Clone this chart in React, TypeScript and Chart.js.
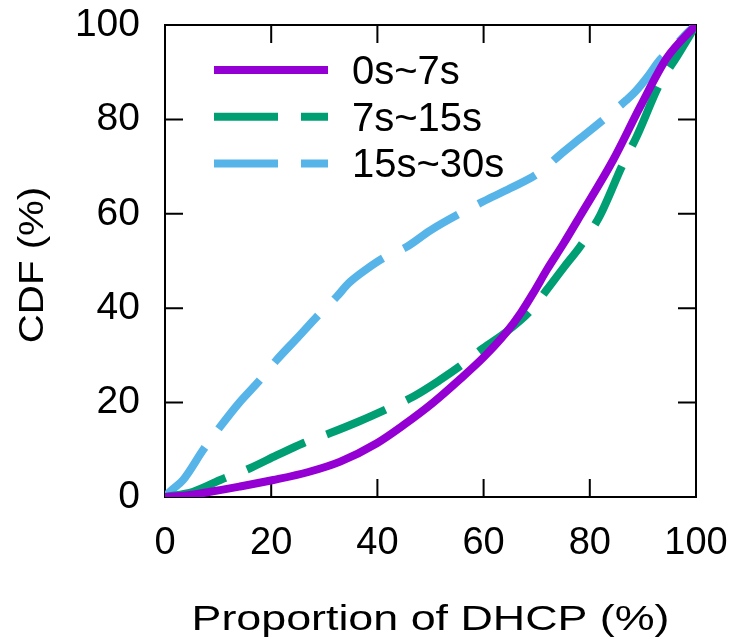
import React, { useEffect, useRef } from "react";
import { Chart, registerables } from "chart.js";

Chart.register(...registerables);

// ---- data ----
const SERIES_LABELS = ["0s~7s", "7s~15s", "15s~30s"];
const SERIES_COLORS = ["#9400D3", "#009E73", "#56B4E9"];
const X_TITLE = "Proportion of DHCP (%)";
const Y_TITLE = "CDF (%)";
const X_TICKS = [0, 20, 40, 60, 80, 100];
const Y_TICKS = [0, 20, 40, 60, 80, 100];

const shortX = [0, 4, 8.5, 14, 20.4, 27, 33, 39.9, 45, 50.5, 55.6, 60, 64.3, 67, 69.4, 72, 75, 78.2, 84.4, 89.5, 94.5, 100];
const shortY = [0, 0.3, 1.1, 2.2, 3.6, 5.3, 7.5, 11.4, 15.3, 20, 25, 29.6, 34.9, 39, 43.3, 48.3, 53.6, 59.6, 71.4, 82.7, 93, 100];

const midX = [0, 5.3, 10.4, 16, 21, 26, 31, 36.5, 41.7, 46.8, 51.8, 55.9, 59.9, 64.3, 68.7, 71.9, 75, 78, 80, 82, 86.3, 88.8, 93.2, 96.4, 100];
const midY = [0, 1.1, 3.6, 6.1, 8.8, 11.4, 13.5, 16, 18.6, 21.3, 24.8, 28, 31.5, 35, 39.3, 43.9, 48.5, 52.8, 56, 59.8, 70.7, 76.3, 87.6, 93.3, 100];

const longX = [0, 1, 3.4, 7.2, 10.4, 14, 17.9, 21, 25, 28.6, 32.3, 34.6, 38, 41.1, 45.5, 50, 55.6, 59.9, 65, 70.3, 74.4, 78, 82.5, 86.9, 88.5, 91, 93.2, 96, 98.2, 100];
const longY = [0, 1.2, 3.6, 10, 14.9, 20, 24.8, 29, 33.8, 38.2, 42.4, 45.3, 48.3, 50.6, 53, 56.5, 60.1, 62.6, 65.4, 68.6, 72.5, 75.8, 79.9, 84.1, 85.8, 89.2, 92.6, 95.5, 98.2, 100];

const FONT = '"Liberation Sans", Arial, Helvetica, sans-serif';
const DASHES: number[][] = [[], [64, 23], [64, 23]];

function toPoints(xs: number[], ys: number[]) {
  return xs.map((x, i) => ({ x, y: ys[i] }));
}

function zeroPad(s: any) {
  s.paddingTop = 0;
  s.paddingBottom = 0;
  s.paddingLeft = 0;
  s.paddingRight = 0;
}

const decorPlugin = {
  id: "decor",
  beforeDatasetsDraw(chart: any) {
    const { ctx, chartArea: a, scales } = chart;
    ctx.save();
    ctx.strokeStyle = "#000";
    ctx.lineWidth = 2;
    ctx.strokeRect(a.left, a.top, a.right - a.left, a.bottom - a.top);
    const tl = 18;
    ctx.beginPath();
    for (const v of X_TICKS) {
      const px = scales.x.getPixelForValue(v);
      ctx.moveTo(px, a.bottom);
      ctx.lineTo(px, a.bottom - tl);
      ctx.moveTo(px, a.top);
      ctx.lineTo(px, a.top + tl);
    }
    for (const v of Y_TICKS) {
      const py = scales.y.getPixelForValue(v);
      ctx.moveTo(a.left, py);
      ctx.lineTo(a.left + tl, py);
      ctx.moveTo(a.right, py);
      ctx.lineTo(a.right - tl, py);
    }
    ctx.stroke();
    ctx.restore();
  },
  afterDraw(chart: any) {
    const { ctx, chartArea: a } = chart;
    ctx.save();
    // legend
    const lx0 = a.left + 49;
    const lx1 = a.left + 163;
    const ly0 = a.top + 45;
    const step = 46.7;
    chart.data.datasets.forEach((ds: any, i: number) => {
      const y = ly0 + i * step;
      ctx.strokeStyle = ds.borderColor;
      ctx.lineWidth = ds.borderWidth;
      ctx.lineCap = "butt";
      ctx.setLineDash(ds.borderDash || []);
      ctx.beginPath();
      ctx.moveTo(lx0, y);
      ctx.lineTo(lx1, y);
      ctx.stroke();
      ctx.setLineDash([]);
      ctx.fillStyle = "#000";
      ctx.font = `40px ${FONT}`;
      ctx.textAlign = "left";
      ctx.textBaseline = "alphabetic";
      ctx.fillText(ds.label, a.left + 187, y + 14);
    });
    // x title
    ctx.fillStyle = "#000";
    ctx.font = `35px ${FONT}`;
    ctx.textAlign = "center";
    ctx.textBaseline = "alphabetic";
    ctx.save();
    ctx.translate((a.left + a.right) / 2, 630);
    ctx.scale(1.28, 1);
    ctx.fillText(X_TITLE, 0, 0);
    ctx.restore();
    // y title
    ctx.save();
    ctx.translate(43, (a.top + a.bottom) / 2 + 4);
    ctx.rotate(-Math.PI / 2);
    ctx.scale(1.15, 1);
    ctx.fillText(Y_TITLE, 0, 0);
    ctx.restore();
    ctx.restore();
  },
};

export default function App() {
  const ref = useRef<HTMLCanvasElement | null>(null);
  useEffect(() => {
    if (!ref.current) return;
    const series = [
      toPoints(shortX, shortY),
      toPoints(midX, midY),
      toPoints(longX, longY),
    ];
    const chart = new Chart(ref.current, {
      type: "line",
      data: {
        datasets: series.map((pts, i) => ({
          label: SERIES_LABELS[i],
          data: pts,
          borderColor: SERIES_COLORS[i],
          backgroundColor: SERIES_COLORS[i],
          borderWidth: 8,
          borderDash: DASHES[i],
          borderCapStyle: "butt",
          pointRadius: 0,
          fill: false,
          cubicInterpolationMode: "monotone",
        })),
      },
      options: {
        animation: false,
        responsive: false,
        events: [],
        layout: { padding: { left: 0, top: 25, right: 50, bottom: 0 } },
        plugins: { legend: { display: false }, tooltip: { enabled: false } },
        scales: {
          x: {
            type: "linear",
            min: 0,
            max: 100,
            afterFit: (s: any) => { s.height = 146; zeroPad(s); },
            afterBuildTicks: (s: any) => { s.ticks = X_TICKS.map((v) => ({ value: v })); },
            grid: { display: false, drawTicks: false },
            border: { display: false },
            ticks: { color: "#000", padding: 24, font: { family: FONT, size: 38 }, maxRotation: 0, autoSkip: false },
          },
          y: {
            type: "linear",
            min: 0,
            max: 100,
            afterFit: (s: any) => { s.width = 165; zeroPad(s); },
            afterBuildTicks: (s: any) => { s.ticks = Y_TICKS.map((v) => ({ value: v })); },
            grid: { display: false, drawTicks: false },
            border: { display: false },
            ticks: { color: "#000", padding: 25, font: { family: FONT, size: 39 }, autoSkip: false },
          },
        },
      },
      plugins: [decorPlugin],
    });
    return () => chart.destroy();
  }, []);
  return (
    <div style={{ position: "fixed", left: 0, top: 0, width: 746, height: 643, background: "#fff" }}>
      <canvas ref={ref} width={746} height={643} style={{ display: "block" }} />
    </div>
  );
}
